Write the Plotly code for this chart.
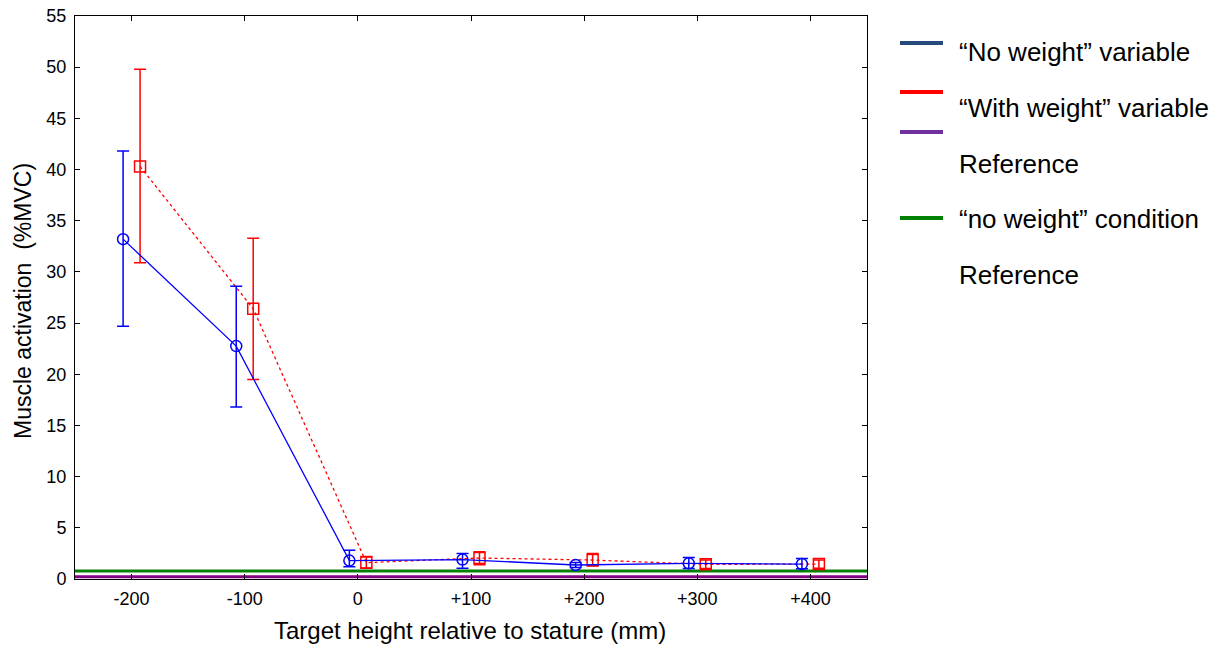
import plotly.graph_objects as go

# ---- data ----
heights = [-200, -100, 0, 100, 200, 300, 400]
tick_labels = ["-200", "-100", "0", "+100", "+200", "+300", "+400"]

no_weight_mean = [33.2, 22.75, 1.8, 1.9, 1.37, 1.53, 1.46]
no_weight_err_up = [8.6, 5.85, 1.0, 0.6, 0.25, 0.57, 0.54]
no_weight_err_dn = [8.5, 5.95, 0.6, 0.85, 0.25, 0.5, 0.45]

with_weight_mean = [40.3, 26.4, 1.6, 2.05, 1.85, 1.43, 1.46]
with_weight_err_up = [9.5, 6.9, 0.6, 0.6, 0.65, 0.42, 0.39]
with_weight_err_dn = [9.4, 6.9, 0.55, 0.65, 0.58, 0.4, 0.42]

ref_no_weight_condition = 0.78
ref_with_weight = 0.22

legend_labels = ["\u201cNo weight\u201d variable", "\u201cWith weight\u201d variable",
                 "Reference", "\u201cno weight\u201d condition", "Reference"]

# ---- style ----
DODGE = 7.5
FONT = "Liberation Sans, Arial, sans-serif"
X_RANGE = [-250, 450]
Y_RANGE = [0, 55]

x_blue = [h - DODGE for h in heights]
x_red = [h + DODGE for h in heights]

fig = go.Figure()

# reference lines (drawn through the axes)
fig.add_trace(go.Scatter(x=X_RANGE, y=[ref_no_weight_condition] * 2, mode="lines",
                         line=dict(color="#008000", width=3), showlegend=False,
                         hoverinfo="skip"))
fig.add_trace(go.Scatter(x=[X_RANGE[0] - 4, X_RANGE[1]], y=[ref_with_weight] * 2, mode="lines",
                         line=dict(color="#800080", width=3), showlegend=False,
                         hoverinfo="skip", cliponaxis=False))

fig.add_trace(go.Scatter(
    x=x_red, y=with_weight_mean, mode="lines+markers",
    line=dict(color="#ff0000", width=1.3, dash="dot"),
    marker=dict(symbol="square-open", size=11, color="#ff0000", line=dict(width=1.5)),
    error_y=dict(type="data", symmetric=False, array=with_weight_err_up,
                 arrayminus=with_weight_err_dn, color="#ff0000", thickness=1.5, width=6),
    showlegend=False, cliponaxis=False))

fig.add_trace(go.Scatter(
    x=x_blue, y=no_weight_mean, mode="lines+markers",
    line=dict(color="#0000ff", width=1.3),
    marker=dict(symbol="circle-open", size=11, color="#0000ff", line=dict(width=1.5)),
    error_y=dict(type="data", symmetric=False, array=no_weight_err_up,
                 arrayminus=no_weight_err_dn, color="#0000ff", thickness=1.5, width=6),
    showlegend=False, cliponaxis=False))

# ---- layout ----
W, H = 1220, 651
PLOT_L, PLOT_R, PLOT_T, PLOT_B = 75, 867, 16, 579  # pixel positions of the plot frame
L, T, R, B = PLOT_L, PLOT_T, W - PLOT_R, H - PLOT_B
pw = PLOT_R - PLOT_L
ph = PLOT_B - PLOT_T


def px_x(p):
    return (p - PLOT_L) / pw


def px_y(p):
    return (PLOT_B - p) / ph


fig.update_layout(
    width=W, height=H, margin=dict(l=L, r=R, t=T, b=B, autoexpand=False),
    paper_bgcolor="white", plot_bgcolor="white",
    font=dict(family=FONT, size=18, color="black"),
    xaxis=dict(range=X_RANGE, tickvals=heights, ticktext=tick_labels,
               showgrid=False, zeroline=False, showline=True, linecolor="black",
               linewidth=1, mirror="ticks", ticks="inside", ticklen=5,
               tickcolor="black", tickfont=dict(size=18), ticklabelstandoff=3,
               ticklabeloverflow="allow"),
    yaxis=dict(range=Y_RANGE, tickvals=list(range(0, 56, 5)), showgrid=False,
               zeroline=False, showline=True, linecolor="black", linewidth=1,
               mirror="ticks", ticks="inside", ticklen=5, tickcolor="black",
               tickfont=dict(size=18), ticklabelstandoff=4,
               ticklabeloverflow="allow"),
)

# axis titles
fig.add_annotation(text="Target height relative to stature (mm)", xref="paper", yref="paper",
                   x=px_x(469.5), y=px_y(630), showarrow=False, font=dict(size=24),
                   xanchor="center", yanchor="middle")
fig.add_annotation(text="Muscle activation  (%MVC)", xref="paper", yref="paper",
                   x=px_x(23), y=px_y(301), showarrow=False, font=dict(size=23),
                   textangle=-90, xanchor="center", yanchor="middle")

# legend (drawn manually to mirror original layout)
legend_lines = [(43, "#264a7c"), (92, "#ff0000"), (132, "#7030a0"), (218, "#008000")]
for yy, col in legend_lines:
    fig.add_shape(type="line", xref="paper", yref="paper",
                  x0=px_x(900), x1=px_x(943), y0=px_y(yy), y1=px_y(yy),
                  line=dict(color=col, width=4))
legend_text_y = [52, 108, 164, 219, 275]
for lab, yy in zip(legend_labels, legend_text_y):
    fig.add_annotation(text=lab, xref="paper", yref="paper", x=px_x(957), y=px_y(yy),
                       showarrow=False, xanchor="left", yanchor="middle",
                       font=dict(size=26))

fig.write_html("out.html", config={"displayModeBar": False},
               post_script="document.body.style.margin='0';"
                           "document.body.style.overflow='hidden';")
